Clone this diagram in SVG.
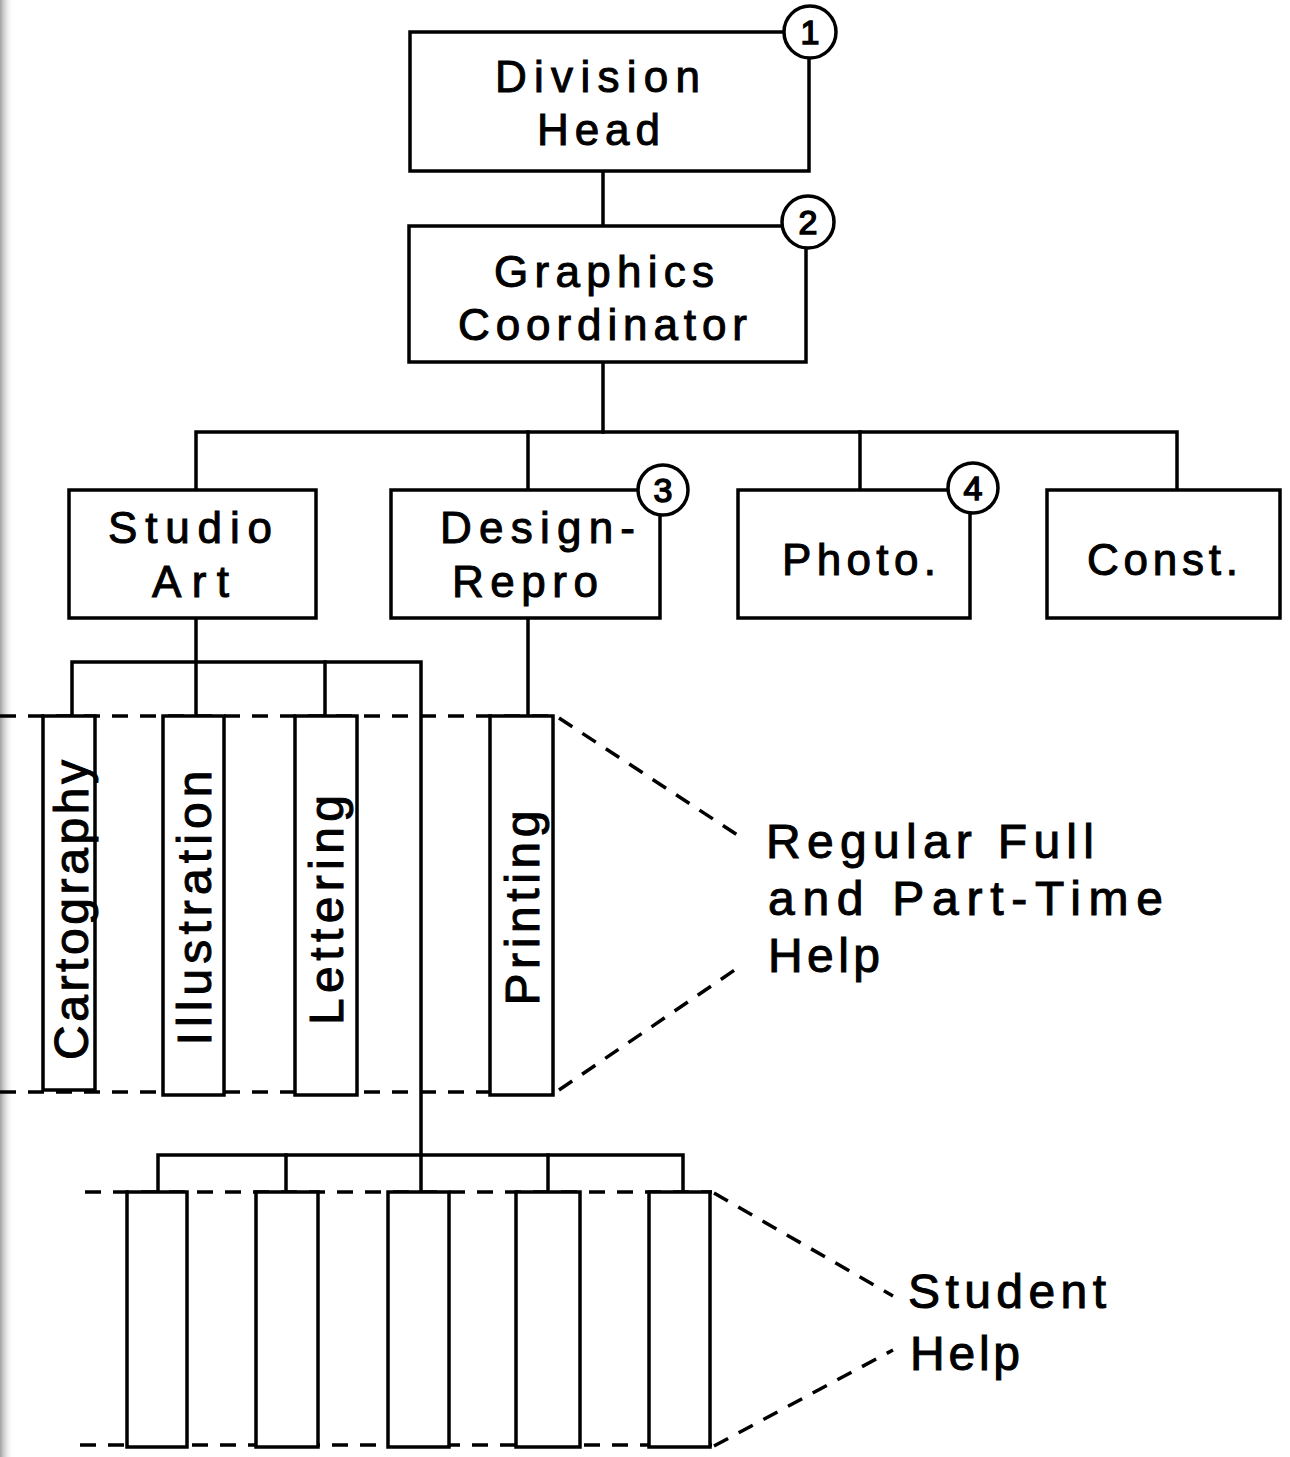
<svg xmlns="http://www.w3.org/2000/svg" width="1290" height="1457" viewBox="0 0 1290 1457">
<style>
.box{fill:#fff;stroke:#000;stroke-width:3.5}
.ln{fill:none;stroke:#000;stroke-width:3.5;stroke-linecap:square}
.dash{fill:none;stroke:#000;stroke-width:3.5;stroke-dasharray:16 12}
.num{fill:#fff;stroke:#000;stroke-width:3.5}
text{font-family:"Liberation Sans","DejaVu Sans",Arial,sans-serif;fill:#000;stroke:#000;stroke-width:1}
.t{font-size:44px;text-anchor:start}
.v{font-size:48px;text-anchor:middle}
.lab{font-size:48px}
.n{font-size:34px;text-anchor:middle;stroke-width:1.5}
</style>
<defs>
<linearGradient id="edge" x1="0" y1="0" x2="1" y2="0">
<stop offset="0" stop-color="#777"/>
<stop offset="1" stop-color="#fff" stop-opacity="0"/>
</linearGradient>
</defs>
<rect x="0" y="0" width="1290" height="1457" fill="#fff"/>
<rect x="0" y="0" width="14" height="1457" fill="url(#edge)" opacity="0.7"/>

<g id="connectors">
<line class="ln" x1="603" y1="171" x2="603" y2="226"/>
<line class="ln" x1="603" y1="362" x2="603" y2="432"/>
<polyline class="ln" points="196,490 196,432 1177,432 1177,490"/>
<line class="ln" x1="528" y1="432" x2="528" y2="490"/>
<line class="ln" x1="860" y1="432" x2="860" y2="490"/>
<line class="ln" x1="196" y1="618" x2="196" y2="716"/>
<polyline class="ln" points="72,716 72,662 421,662 421,1192"/>
<line class="ln" x1="325" y1="662" x2="325" y2="716"/>
<line class="ln" x1="528" y1="618" x2="528" y2="716"/>
<polyline class="ln" points="158,1192 158,1155 683,1155 683,1192"/>
<line class="ln" x1="286" y1="1155" x2="286" y2="1192"/>
<line class="ln" x1="548" y1="1155" x2="548" y2="1192"/>
<line class="dash" x1="0" y1="716" x2="557" y2="716"/>
<line class="dash" x1="0" y1="1092" x2="557" y2="1092"/>
<line class="dash" x1="559" y1="718" x2="742" y2="838"/>
<line class="dash" x1="559" y1="1090" x2="742" y2="965"/>
<line class="dash" x1="85" y1="1192" x2="712" y2="1192"/>
<line class="dash" x1="80" y1="1445" x2="712" y2="1445"/>
<line class="dash" x1="714" y1="1193" x2="893" y2="1296"/>
<line class="dash" x1="714" y1="1446" x2="893" y2="1350"/>
</g>

<g id="division-head">
<rect class="box" x="410" y="32" width="399" height="139"/>
<text class="t" x="495" y="92" textLength="205" lengthAdjust="spacing">Division</text>
<text class="t" x="537" y="145" textLength="123" lengthAdjust="spacing">Head</text>
<circle class="num" cx="810" cy="32" r="26"/>
<text class="n" x="810" y="44">1</text>
</g>

<g id="graphics-coordinator">
<rect class="box" x="409" y="226" width="397" height="136"/>
<text class="t" x="494" y="287" textLength="220" lengthAdjust="spacing">Graphics</text>
<text class="t" x="458" y="340" textLength="289" lengthAdjust="spacing">Coordinator</text>
<circle class="num" cx="808" cy="222" r="26"/>
<text class="n" x="808" y="234">2</text>
</g>

<g id="studio-art">
<rect class="box" x="69" y="490" width="247" height="128"/>
<text class="t" x="108" y="543" textLength="164" lengthAdjust="spacing">Studio</text>
<text class="t" x="152" y="597" textLength="77" lengthAdjust="spacing">Art</text>
</g>

<g id="design-repro">
<rect class="box" x="391" y="490" width="269" height="128"/>
<text class="t" x="440" y="543" textLength="195" lengthAdjust="spacing">Design-</text>
<text class="t" x="452" y="597" textLength="146" lengthAdjust="spacing">Repro</text>
<circle class="num" cx="663" cy="490" r="25"/>
<text class="n" x="663" y="502">3</text>
</g>

<g id="photo">
<rect class="box" x="738" y="490" width="232" height="128"/>
<text class="t" x="782" y="575" textLength="154" lengthAdjust="spacing">Photo.</text>
<circle class="num" cx="973" cy="488" r="25"/>
<text class="n" x="973" y="500">4</text>
</g>

<g id="const">
<rect class="box" x="1047" y="490" width="233" height="128"/>
<text class="t" x="1087" y="575" textLength="151" lengthAdjust="spacing">Const.</text>
</g>

<g id="cartography">
<rect class="box" x="43" y="716" width="52" height="374"/>
<text class="v" transform="translate(88,910) rotate(-90)" textLength="300" lengthAdjust="spacing">Cartography</text>
</g>
<g id="illustration">
<rect class="box" x="163" y="716" width="61" height="379"/>
<text class="v" transform="translate(211,908) rotate(-90)" textLength="275" lengthAdjust="spacing">Illustration</text>
</g>
<g id="lettering">
<rect class="box" x="295" y="716" width="62" height="379"/>
<text class="v" transform="translate(343,910) rotate(-90)" textLength="230" lengthAdjust="spacing">Lettering</text>
</g>
<g id="printing">
<rect class="box" x="490" y="716" width="63" height="379"/>
<text class="v" transform="translate(539,908) rotate(-90)" textLength="195" lengthAdjust="spacing">Printing</text>
</g>

<g id="regular-help-label">
<text class="lab" x="766" y="858" textLength="328" lengthAdjust="spacing">Regular  Full</text>
<text class="lab" x="768" y="915" textLength="395" lengthAdjust="spacing">and  Part-Time</text>
<text class="lab" x="768" y="972" textLength="112" lengthAdjust="spacing">Help</text>
</g>

<g id="student-1"><rect class="box" x="127" y="1192" width="60" height="255"/></g>
<g id="student-2"><rect class="box" x="256" y="1192" width="62" height="255"/></g>
<g id="student-3"><rect class="box" x="388" y="1192" width="61" height="255"/></g>
<g id="student-4"><rect class="box" x="516" y="1192" width="64" height="255"/></g>
<g id="student-5"><rect class="box" x="649" y="1192" width="61" height="255"/></g>

<g id="student-help-label">
<text class="lab" x="908" y="1308" textLength="198" lengthAdjust="spacing">Student</text>
<text class="lab" x="910" y="1370" textLength="110" lengthAdjust="spacing">Help</text>
</g>
</svg>
